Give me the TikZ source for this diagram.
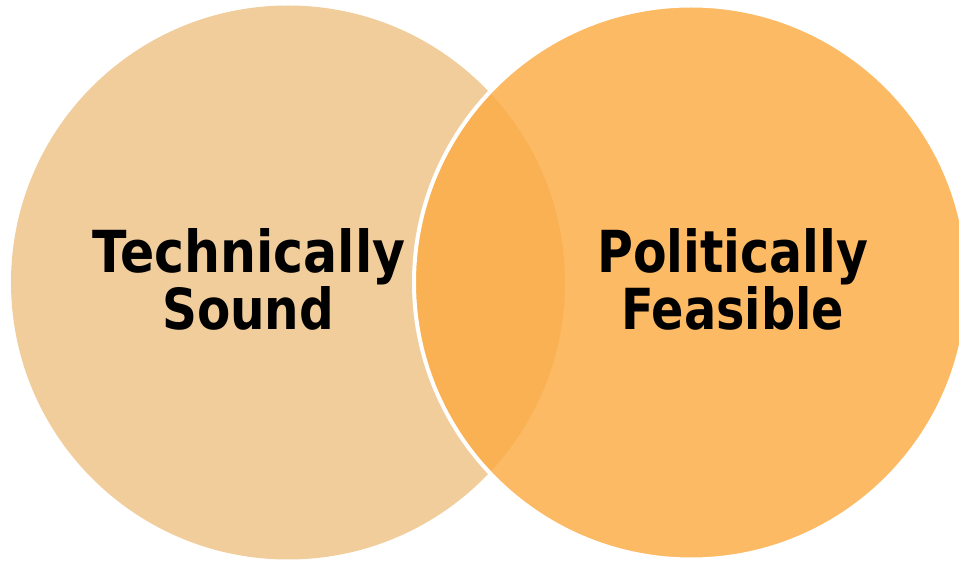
\documentclass[tikz,border=0pt]{standalone}
\usepackage{fontspec}
\setmainfont{DejaVu Sans}
\usepackage{graphicx}
\definecolor{leftc}{RGB}{242,205,156}
\definecolor{rightc}{RGB}{252,186,101}
\definecolor{overc}{RGB}{249,177,83}
\tikzset{
  lbl/.style={inner sep=0pt, anchor=base west, font=\bfseries\fontsize{60}{60}\selectfont},
}
\begin{document}
\begin{tikzpicture}[x=1pt,y=-1pt]
\useasboundingbox (0,0) rectangle (959,561);
\coordinate (lc) at (288,282.5);
\coordinate (rc) at (691,282.5);
\fill[leftc] (lc) circle (277);
\fill[rightc] (rc) circle (277);
\begin{scope}
  \clip (rc) circle (277);
  \fill[overc] (lc) circle (277);
\end{scope}
\draw[white, line width=4pt] (rc) circle (277);
\node[lbl] (t1) at (92,273) {\resizebox{313pt}{44pt}{Technically}};
\node[lbl] (t2) at (162,330) {\resizebox{172pt}{43pt}{Sound}};
\node[lbl] (t3) at (597,273) {\resizebox{271pt}{44pt}{Politically}};
\node[lbl] (t4) at (621,330) {\resizebox{223pt}{43pt}{Feasible}};
\end{tikzpicture}
\end{document}
